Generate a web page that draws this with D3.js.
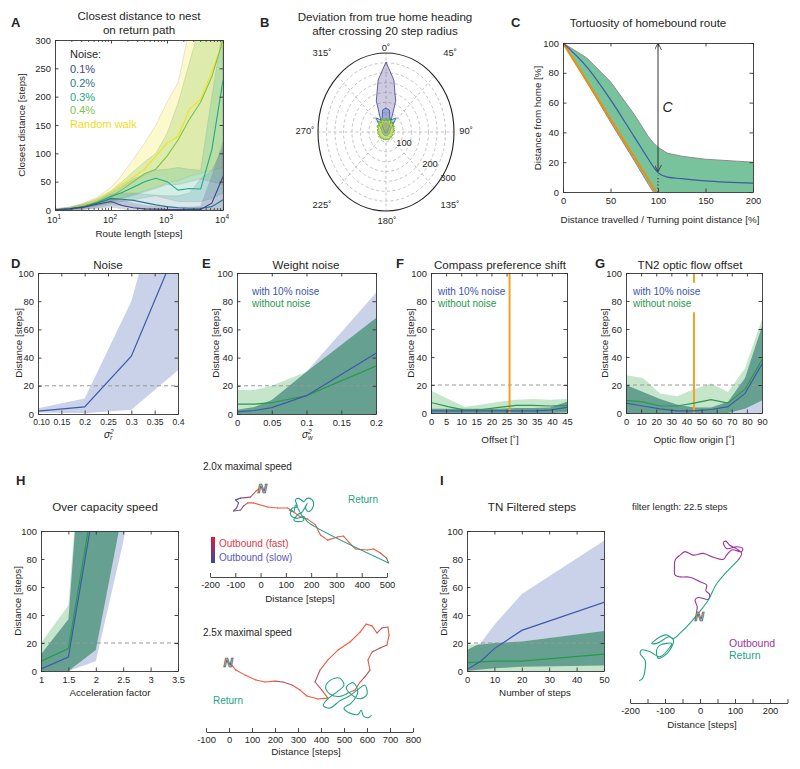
<!DOCTYPE html>
<html><head><meta charset="utf-8">
<script src="https://cdn.jsdelivr.net/npm/d3@7"></script>
<style>body{margin:0;background:#fff;} svg text{font-family:"Liberation Sans",Arial,Helvetica,sans-serif;}</style>
</head><body>
<script>
// ================= DATA =================
// Panel A: closest distance to nest vs route length (log x)
const aRoute = [10,18,32,56,100,158,251,398,631,1000,1585,2512,3981,6310,10000];
const aN01   = [0.5,2,5,10,15,8,4,2,1.5,1,1,1,1,12,59];
const aN01lo = [0,0,1,3,5,2,0,0,0,0,0,0,0,0,0];
const aN01hi = [1,3,8,14,22,18,12,8,6,5,5,5,6,60,120];
const aN02   = [0.5,2,5,12,20,19,17,13,9,6,4,3,3,6,18];
const aN02lo = [0,0,1,4,9,7,4,1,0,0,0,0,0,0,0];
const aN02hi = [1,4,9,17,28,30,30,28,26,25,25,30,55,70,110];
const aN03   = [0.5,2,6,13,24,31,40,50,56,50,35,38,37,106,229];
const aN03lo = [0,1,3,7,12,15,18,22,25,20,15,15,15,20,30];
const aN03hi = [1,4,10,18,30,42,55,62,70,72,75,72,70,200,320];
const aN04   = [1,3,7,14,24,36,50,64,72,95,124,160,190,235,300];
const aN04lo = [0,1,3,8,14,20,26,32,38,45,45,50,55,50,45];
const aN04hi = [2,5,11,20,34,50,68,85,100,135,190,260,330,400,400];
const aRW    = [1,3,8,17,32,45,58,72,95,118,130,178,195,245,295];
const aRWlo  = [0,1,4,9,16,22,28,34,40,48,52,60,65,70,75];
const aRWhi  = [2,5,12,22,40,62,90,118,150,190,225,320,400,400,400];
const aLegend = ["0.1%","0.2%","0.3%","0.4%","Random walk"];
const aYTicks = [0,50,100,150,200,250,300];
const aXTicks = [10,100,1000,10000];

// Panel B: polar histograms (deg, clockwise from 0)
const bAngles = d3.range(0,360,10);
const b01 = [266,200,125,40,20,12,10,9,8,7,6,6,5,5,5,5,5,5,5,5,5,5,5,5,5,6,6,7,8,9,10,12,20,40,125,200];
const b02 = [91,85,50,55,70,35,25,20,18,17,16,15,15,14,14,14,14,14,14,14,14,14,14,14,15,15,16,17,18,20,25,35,70,55,50,85];
const b03 = [52,45,55,40,48,36,42,32,38,30,27,33,28,31,25,29,32,26,30,27,31,25,29,33,27,31,36,30,40,34,46,38,52,42,50,44];
const b04 = [48,55,42,50,38,45,33,40,30,35,28,32,27,30,26,31,28,25,29,26,30,27,32,28,34,30,37,32,41,36,46,40,52,44,56,50];
const bRW = [42,36,45,33,40,30,36,28,33,26,30,24,28,23,27,24,26,22,25,23,27,24,28,25,30,26,32,28,35,30,38,32,42,35,46,38];
const bAngleLabels = ["0˚","45˚","90˚","135˚","180˚","225˚","270˚","315˚"];
const bRadLabels = [100,200,300];

// Panel C: tortuosity
const cX    = [0,25,50,75,90,95,100,110,125,150,200];
const cMean = [100,84,62,37,22,17,13,10,9,7.5,6];
const cHi   = [100,90,74,52,37,33,30,26,24,22,20];
const cLo   = [100,74,47,21,5,0,0,0,0,0,0];
const cOptX = [0,98];
const cOptY = [100,0];
const cXTicks = [0,50,100,150,200];
const cYTicks = [0,20,40,60,80,100];

// Panel D: noise
const dX = [0.1,0.2,0.3,0.4];
const dMean = [2,5,41,120];
const dHi = [4,11,80,200];
const dLo = [1,0.5,3,31];
const dXTicks = [0.1,0.15,0.2,0.25,0.3,0.35,0.4];
const dXLabels = ["0.10","0.15","0.2","0.25","0.3","0.35","0.4"];

// Panel E: weight noise
const eX = [0,0.025,0.05,0.1,0.2];
const eBlue = [1.5,2.5,4.5,13,43];
const eBlueHi = [3,5,10,30,86];
const eBlueLo = [0,0,0,0,0];
const eGreen = [7,7,8,13,34];
const eGreenHi = [17,17,20,30,68];
const eGreenLo = [0,0,0,0,0];
const eXTicks = [0,0.05,0.1,0.15,0.2];
const eXLabels = ["0","0.05","0.1","0.15","0.2"];

// Panel F: compass preference shift
const fX = [0,5.625,11.25,16.875,22.5,28.125,33.75,39.375,45];
const fBlue = [1.5,1.5,1.5,1.5,1.5,1.5,1.5,2,4];
const fBlueHi = [3,3,3,3,3,3.5,3.5,4,8];
const fBlueLo = [0,0,0,0,0,0,0,0,0.5];
const fGreen = [7.5,4.5,2,2.5,4,5.5,5.5,5,5.5];
const fGreenHi = [16,10,4.5,6,8,9.5,10,9.5,10];
const fGreenLo = [0,0,0,0,0,0,0,0,0];
const fOrange = 26;
const fXTicks = [0,5,10,15,20,25,30,35,40,45];

// Panel G: TN2 optic flow offset
const gX = [0,11.25,22.5,33.75,45,56.25,67.5,78.75,90];
const gBlue = [7,5,3,1.5,1.5,2.5,4.5,14,35];
const gBlueHi = [20,15,10,6,4,4,8,25,62];
const gBlueLo = [0,0,0,0,0,0,0,0,0];
const gGreen = [9,8,5,5,7,9.5,7,17,38];
const gGreenHi = [27,25,14,12,17,21,15,32,67];
const gGreenLo = [0,0,0,0,0,0,0,3,9];
const gOrange = 45;
const gXTicks = [0,10,20,30,40,50,60,70,80,90];

// Panel H: over capacity speed
const hX = [1,1.5,2,2.5,3,3.5];
const hBlue = [1.5,10,125,300,400,450];
const hBlueHi = [12,37,300,400,450,500];
const hBlueLo = [0,0,7,92,200,300];
const hGreen = [7,16,133,300,400,450];
const hGreenHi = [20,47,300,400,450,500];
const hGreenLo = [0,0,15,116,220,320];
const hXTicks = [1,1.5,2,2.5,3,3.5];

// Panel H trajectories (steps)
const h1Out = [[-8,0],[-20,-10],[-40,-32],[-79,-36],[-99,-43],[-87,-55],[-95,-75],[-107,-87],[-79,-83],[-67,-67],[-51,-55],[-28,-55],[28,-71],[67,-75],[107,-75],[126,-87],[158,-111],[186,-119],[217,-142],[237,-182],[265,-202],[304,-190],[328,-186],[348,-209],[375,-237],[423,-241],[447,-237],[474,-253],[498,-273],[506,-292]];
const h1Speed = [1,1,0.6,0.3,0.2,0.2,0.3,0.2,0.4,0.6,0.9,1,1,1,1,1,1,1,1,1,1,1,1,1,1,1,1,1,0.7,0.4];
const h1Ret = [[506,-292],[185,-129],[171,-109],[145,-116],[119,-103],[125,-76],[145,-70],[138,-43],[151,-37],[171,-50],[184,-37],[204,-43],[208,-70],[191,-90],[178,-76],[184,-57],[165,-90],[145,-103],[132,-123],[151,-129],[171,-123],[158,-96],[138,-63],[132,-90],[112,-83]];
const h2Out = [[5,-5],[30,-35],[70,-57],[117,-78],[157,-87],[200,-83],[235,-87],[274,-100],[309,-122],[339,-148],[387,-161],[430,-157],[404,-122],[374,-87],[396,-35],[430,9],[474,52],[526,87],[570,130],[596,165],[622,157],[643,126],[665,148],[691,152],[696,117],[687,74],[657,61],[622,43],[604,9],[613,-35],[591,-65],[570,-87],[548,-122],[517,-135]];
const h2Speed = [1,1,1,1,1,1,0.3,1,1,1,1,1,1,0.3,1,1,1,1,1,1,1,1,0.3,1,1,1,0.3,1,1,1,0.3,1,1,1];
const h2Ret = [[517,-135],[480,-150],[440,-140],[420,-110],[440,-80],[480,-70],[500,-100],[470,-130],[430,-160],[410,-190],[440,-200],[480,-170],[520,-150],[560,-120],[590,-100],[600,-140],[570,-160],[530,-140],[510,-110],[540,-90],[560,-130],[530,-180],[500,-200],[520,-220],[560,-228],[575,-210],[585,-235],[605,-242],[620,-232]];
const h1AxisTicks = [-200,-100,0,100,200,300,400,500];
const h2AxisTicks = [-100,0,100,200,300,400,500,600,700,800];

// Panel I: TN filtered steps
const iX = [0,5,10,20,50];
const iBlue = [1,7,16,29,49];
const iBlueHi = [15,20,33,55,93];
const iBlueLo = [0,1,2,3,4];
const iGreen = [6,6.5,7,7,12];
const iGreenHi = [19,19,20,21,28.5];
const iGreenLo = [0,0,0,0,0];
const iXTicks = [0,10,20,30,40,50];
const iOut = [[0,0],[-9,5],[-8,24],[-14,43],[-5,50],[24,45],[27,60],[17,69],[19,86],[0,95],[-29,108],[-57,109],[-71,114],[-73,138],[-71,157],[-57,171],[-43,181],[-19,171],[9,176],[38,165],[67,159],[76,171],[91,186],[119,181],[122,190],[105,195],[76,190],[67,207],[74,211],[84,200],[105,189],[119,176],[109,157]];
const iRet = [[109,157],[48,90],[24,43],[-5,5],[-29,-24],[-57,-52],[-76,-67],[-95,-57],[-114,-62],[-133,-76],[-138,-81],[-124,-81],[-105,-71],[-90,-62],[-76,-71],[-86,-100],[-105,-119],[-119,-124],[-124,-100],[-114,-86],[-95,-81],[-81,-81],[-114,-119],[-143,-105],[-167,-100],[-171,-110],[-157,-129],[-157,-157],[-164,-181],[-174,-188]];
const iAxisTicks = [-200,-150,-100,-50,0,50,100,150,200,250];
const iAxisLabels = [-200,-100,0,100,200];

const y100Ticks = [0,20,40,60,80,100];

// ================= STYLE =================
const BLUE = "#3e5aa9", GREEN = "#279a4c";
const BLUE_BAND = "#c9d2e8", GREEN_BAND = "#c6e6cc", OVERLAP = "#66a090";
const ORANGE = "#f4a223";
const INK = "#262626";
const TICK = 9.4, LAB = 9.8, TITLE = 11.6;

const svg = d3.select("body").append("svg").attr("width",800).attr("height",769);
svg.append("rect").attr("width",800).attr("height",769).attr("fill","#fff");
const defs = svg.append("defs");
let clipN = 0;

function txt(x,y,s,o={}) {
  const t = svg.append("text").attr("x",x).attr("y",y).text(s)
    .attr("font-size",o.size||LAB).attr("text-anchor",o.anchor||"start").attr("fill",o.fill||INK);
  if (o.weight) t.attr("font-weight",o.weight);
  if (o.style) t.attr("font-style",o.style);
  if (o.family) t.attr("font-family",o.family);
  if (o.rotate) t.attr("transform",`rotate(${o.rotate},${x},${y})`);
  if (o.mid) t.attr("dominant-baseline","central");
  return t;
}
function styleAxis(sel){
  sel.selectAll("path,line").attr("stroke","#333").attr("stroke-width",0.9);
  sel.selectAll("text").attr("font-size",TICK).attr("fill",INK).attr("font-family",'"Liberation Sans",Arial,sans-serif');
}
function frame(xs, ys, xt, yt, xf, yf) {
  const [x0,x1] = xs.range(), [yb,ytop] = ys.range();
  const g = svg.append("g");
  const bottom = g.append("g").attr("transform",`translate(0,${yb})`).call(d3.axisBottom(xs).tickValues(xt).tickFormat(xf).tickSizeInner(-3.5).tickSizeOuter(0).tickPadding(5)).call(styleAxis);
  g.append("g").attr("transform",`translate(0,${ytop})`).call(d3.axisTop(xs).tickValues(xt).tickFormat("").tickSizeInner(-3.5).tickSizeOuter(0)).call(styleAxis);
  g.append("g").attr("transform",`translate(${x0},0)`).call(d3.axisLeft(ys).tickValues(yt).tickFormat(yf).tickSizeInner(-3.5).tickSizeOuter(0).tickPadding(4)).call(styleAxis);
  g.append("g").attr("transform",`translate(${x1},0)`).call(d3.axisRight(ys).tickValues(yt).tickFormat("").tickSizeInner(-3.5).tickSizeOuter(0)).call(styleAxis);
  return bottom;
}
function plotClip(xs, ys) {
  const id = "clip"+(clipN++);
  const [x0,x1] = xs.range(), [yb,yt] = ys.range();
  defs.append("clipPath").attr("id",id).append("rect").attr("x",x0).attr("y",yt).attr("width",x1-x0).attr("height",yb-yt);
  return id;
}
function areaPath(xs, ys, X, hi, lo) {
  return d3.area().x((d,i)=>xs(X[i])).y0((d,i)=>ys(lo[i])).y1((d,i)=>ys(hi[i]))(X);
}
function linePath(xs, ys, X, Y) {
  return d3.line().x((d,i)=>xs(X[i])).y((d,i)=>ys(Y[i]))(X);
}

// Distance panel with bands (D-I)
function distPanel(xs, ys, X, s) {
  const cid = plotClip(xs, ys);
  const g = svg.append("g").attr("clip-path",`url(#${cid})`);
  const bp = areaPath(xs, ys, X, s.blueHi, s.blueLo);
  g.append("path").attr("d",bp).attr("fill",BLUE_BAND);
  if (s.greenHi) {
    const gp = areaPath(xs, ys, X, s.greenHi, s.greenLo);
    g.append("path").attr("d",gp).attr("fill",GREEN_BAND);
    const bid = "bc"+(clipN++);
    defs.append("clipPath").attr("id",bid).append("path").attr("d",bp);
    g.append("path").attr("d",gp).attr("fill",OVERLAP).attr("clip-path",`url(#${bid})`);
  }
  g.append("line").attr("x1",xs.range()[0]).attr("x2",xs.range()[1]).attr("y1",ys(20)).attr("y2",ys(20))
    .attr("stroke","#999").attr("stroke-width",1).attr("stroke-dasharray","4,3");
  if (s.orange !== undefined) {
    if (s.orangeGap) {
      g.append("line").attr("x1",xs(s.orange)).attr("x2",xs(s.orange)).attr("y1",ys(0)).attr("y2",ys(s.orangeGap[0])).attr("stroke",ORANGE).attr("stroke-width",2);
      g.append("line").attr("x1",xs(s.orange)).attr("x2",xs(s.orange)).attr("y1",ys(s.orangeGap[1])).attr("y2",ys(100)).attr("stroke",ORANGE).attr("stroke-width",2);
    } else {
      g.append("line").attr("x1",xs(s.orange)).attr("x2",xs(s.orange)).attr("y1",ys(0)).attr("y2",ys(100)).attr("stroke",ORANGE).attr("stroke-width",2);
    }
  }
  if (s.green) g.append("path").attr("d",linePath(xs,ys,X,s.green)).attr("fill","none").attr("stroke",GREEN).attr("stroke-width",1.2);
  g.append("path").attr("d",linePath(xs,ys,X,s.blue)).attr("fill","none").attr("stroke",BLUE).attr("stroke-width",1.2);
}
function yLabel(x, yc, s) { txt(x, yc, s, {rotate:-90, anchor:"middle", mid:true}); }
function legend2(x, y) {
  txt(x, y, "with 10% noise", {size:10, fill:"#3a55b0"});
  txt(x, y+12, "without noise", {size:10, fill:GREEN});
}

// ================= PANEL A =================
{
  const xs = d3.scaleLog().domain([10,10000]).range([55,223]);
  const ys = d3.scaleLinear().domain([0,300]).range([210,40]);
  const cid = plotClip(xs, ys);
  const g = svg.append("g").attr("clip-path",`url(#${cid})`);
  const series = [
    {c:"#f3e21c", m:aRW, lo:aRWlo, hi:aRWhi, op:0.22},
    {c:"#7fc34f", m:aN04, lo:aN04lo, hi:aN04hi, op:0.25},
    {c:"#22a884", m:aN03, lo:aN03lo, hi:aN03hi, op:0.2},
    {c:"#2a788e", m:aN02, lo:aN02lo, hi:aN02hi, op:0.18},
    {c:"#414487", m:aN01, lo:aN01lo, hi:aN01hi, op:0.2}
  ];
  series.forEach(s => {
    g.append("path").attr("d",areaPath(xs,ys,aRoute,s.hi,s.lo)).attr("fill",s.c).attr("fill-opacity",s.op)
      .attr("stroke","#888").attr("stroke-opacity",0.35).attr("stroke-width",0.6);
  });
  series.forEach(s => {
    g.append("path").attr("d",linePath(xs,ys,aRoute,s.m)).attr("fill","none").attr("stroke",s.c).attr("stroke-width",1.1);
  });
  frame(xs, ys, aXTicks, aYTicks, ()=>"", d3.format("d"));
  const minors = [];
  [10,100,1000].forEach(d => d3.range(2,10).forEach(m => minors.push(d*m)));
  minors.forEach(v => {
    svg.append("line").attr("x1",xs(v)).attr("x2",xs(v)).attr("y1",210).attr("y2",208).attr("stroke","#333").attr("stroke-width",0.8);
    svg.append("line").attr("x1",xs(v)).attr("x2",xs(v)).attr("y1",40).attr("y2",42).attr("stroke","#333").attr("stroke-width",0.8);
  });
  aXTicks.forEach(v => {
    const t = txt(xs(v)-1, 223, "10", {size:TICK, anchor:"middle"});
    t.append("tspan").attr("dy",-4).attr("font-size",6.5).text(String(Math.round(Math.log10(v))));
  });
  txt(139, 20, "Closest distance to nest", {size:TITLE, anchor:"middle"});
  txt(139, 34, "on return path", {size:TITLE, anchor:"middle"});
  txt(139, 237, "Route length [steps]", {anchor:"middle"});
  yLabel(21, 125, "Closest distance [steps]");
  txt(70, 58, "Noise:", {size:11});
  const lc = ["#414487","#2a788e","#22a884","#7fc34f","#f0dc1a"];
  aLegend.forEach((s,i) => txt(70, 73 + i*13.8, s, {size:11, fill:lc[i]}));
  txt(11, 27, "A", {size:13, weight:"bold"});
}

// ================= PANEL B =================
{
  const cx = 386, cy = 132, rx = 68, ry = 79;
  const rs = d3.scaleLinear().domain([0,300]).range([0,1]);
  const pt = (a, r) => [cx + rx*rs(r)*Math.sin(a*Math.PI/180), cy - ry*rs(r)*Math.cos(a*Math.PI/180)];
  const g = svg.append("g");
  d3.range(1,8).forEach(k => g.append("ellipse").attr("cx",cx).attr("cy",cy).attr("rx",rx*k/8).attr("ry",ry*k/8)
    .attr("fill","none").attr("stroke","#b5b5b5").attr("stroke-width",0.8).attr("stroke-dasharray","3,2.5"));
  d3.range(0,360,45).forEach(a => {
    const p = pt(a, 300);
    g.append("line").attr("x1",cx).attr("y1",cy).attr("x2",p[0]).attr("y2",p[1])
      .attr("stroke","#b5b5b5").attr("stroke-width",0.8).attr("stroke-dasharray","3,2.5");
  });
  const polys = [
    {v:b01, c:"#5b4f94", f:"#6a5f9e", op:0.33},
    {v:b02, c:"#3b5db5", f:"#3b5db5", op:0.3},
    {v:b03, c:"#1f9e8a", f:"#1f9e8a", op:0.25},
    {v:b04, c:"#7cc444", f:"#7cc444", op:0.25},
    {v:bRW, c:"#e9d81a", f:"#f2e21c", op:0.25}
  ];
  polys.forEach(p => {
    const d = d3.line().curve(d3.curveLinearClosed)(bAngles.map((a,i)=>pt(a,p.v[i])));
    g.append("path").attr("d",d).attr("fill",p.f).attr("fill-opacity",p.op).attr("stroke",p.c).attr("stroke-width",0.9);
  });
  g.append("ellipse").attr("cx",cx).attr("cy",cy).attr("rx",rx).attr("ry",ry).attr("fill","none").attr("stroke","#222").attr("stroke-width",1.1);
  const offs = [[0,-85],[64,-80],[80,-2],[64,72],[1,88],[-64,72],[-81,-2],[-64,-80]];
  bAngleLabels.forEach((s,i) => txt(cx+offs[i][0], cy+offs[i][1], s, {size:TICK, anchor:"middle", mid:true}));
  const rlab = [[18,10],[44,31],[62,45]];
  bRadLabels.forEach((r,i) => txt(cx+rlab[i][0], cy+rlab[i][1], String(r), {size:TICK, anchor:"middle", mid:true}));
  txt(385, 21, "Deviation from true home heading", {size:TITLE, anchor:"middle"});
  txt(385, 35, "after crossing 20 step radius", {size:TITLE, anchor:"middle"});
  txt(260, 27, "B", {size:13, weight:"bold"});
}

// ================= PANEL C =================
{
  const xs = d3.scaleLinear().domain([0,200]).range([563,753]);
  const ys = d3.scaleLinear().domain([0,100]).range([192,43]);
  const cid = plotClip(xs, ys);
  const g = svg.append("g").attr("clip-path",`url(#${cid})`);
  g.append("path").attr("d",areaPath(xs,ys,cX,cHi,cLo)).attr("fill","#79c39c");
  g.append("path").attr("d",linePath(xs,ys,cX,cHi)).attr("fill","none").attr("stroke","#8c8c8c").attr("stroke-width",1);
  g.append("path").attr("d",linePath(xs,ys,cX.slice(0,6),cLo.slice(0,6))).attr("fill","none").attr("stroke","#8c8c8c").attr("stroke-width",1);
  g.append("path").attr("d",linePath(xs,ys,cOptX,cOptY)).attr("fill","none").attr("stroke","#f08c0a").attr("stroke-width",2);
  g.append("path").attr("d",d3.line().curve(d3.curveMonotoneX).x((d,i)=>xs(cX[i])).y(d=>ys(d))(cMean)).attr("fill","none").attr("stroke","#3c5aa8").attr("stroke-width",1.2);
  g.append("line").attr("x1",xs(100)).attr("x2",xs(100)).attr("y1",ys(0)).attr("y2",ys(11)).attr("stroke","#222").attr("stroke-width",1).attr("stroke-dasharray","1.2,2");
  defs.append("marker").attr("id","arrowC").attr("viewBox","0 0 10 10").attr("refX",9).attr("refY",5)
    .attr("markerWidth",7).attr("markerHeight",7).attr("orient","auto-start-reverse")
    .append("path").attr("d","M0,0 L10,5 L0,10").attr("fill","none").attr("stroke","#333").attr("stroke-width",1.2);
  svg.append("line").attr("x1",xs(100)).attr("x2",xs(100)).attr("y1",ys(99.5)).attr("y2",ys(14))
    .attr("stroke","#333").attr("stroke-width",1).attr("marker-start","url(#arrowC)").attr("marker-end","url(#arrowC)");
  txt(xs(110), ys(57), "C", {size:14, style:"italic", family:"DejaVu Serif, serif", anchor:"middle", mid:true});
  frame(xs, ys, cXTicks, cYTicks, d3.format("d"), d3.format("d"));
  txt(648, 27, "Tortuosity of homebound route", {size:TITLE, anchor:"middle"});
  txt(660, 223, "Distance travelled / Turning point distance [%]", {anchor:"middle"});
  yLabel(537, 118, "Distance from home [%]");
  txt(511, 27, "C", {size:13, weight:"bold"});
}

// ================= PANEL D =================
{
  const xs = d3.scaleLinear().domain([0.1,0.4]).range([38,178]);
  const ys = d3.scaleLinear().domain([0,100]).range([414,273]);
  distPanel(xs, ys, dX, {blue:dMean, blueHi:dHi, blueLo:dLo});
  const bottom = frame(xs, ys, dXTicks, y100Ticks, (d,i)=>dXLabels[i], d3.format("d"));
  bottom.selectAll(".tick text").attr("font-size",8.6);
  bottom.selectAll(".tick text").filter((d,i)=>i===0).attr("dx",3);
  txt(108, 269, "Noise", {size:TITLE, anchor:"middle"});
  const t = txt(104, 438, "σ", {size:10, style:"italic"});
  t.append("tspan").attr("dx",0).attr("dy",-4).attr("font-size",6.5).text("2");
  t.append("tspan").attr("dx",-3.6).attr("dy",6).attr("font-size",6.5).text("r");
  yLabel(18, 343, "Distance [steps]");
  txt(11, 268, "D", {size:13, weight:"bold"});
}
// ================= PANEL E =================
{
  const xs = d3.scaleLinear().domain([0,0.2]).range([237,376]);
  const ys = d3.scaleLinear().domain([0,100]).range([414,273]);
  distPanel(xs, ys, eX, {blue:eBlue, blueHi:eBlueHi, blueLo:eBlueLo, green:eGreen, greenHi:eGreenHi, greenLo:eGreenLo});
  frame(xs, ys, eXTicks, y100Ticks, (d,i)=>eXLabels[i], d3.format("d"));
  legend2(252, 295);
  txt(306, 269, "Weight noise", {size:TITLE, anchor:"middle"});
  const t = txt(302, 438, "σ", {size:10, style:"italic"});
  t.append("tspan").attr("dx",0).attr("dy",-4).attr("font-size",6.5).text("2");
  t.append("tspan").attr("dx",-3.6).attr("dy",6).attr("font-size",6.5).text("w");
  yLabel(215, 343, "Distance [steps]");
  txt(202, 268, "E", {size:13, weight:"bold"});
}
// ================= PANEL F =================
{
  const xs = d3.scaleLinear().domain([0,45]).range([431,567]);
  const ys = d3.scaleLinear().domain([0,100]).range([413,273]);
  distPanel(xs, ys, fX, {blue:fBlue, blueHi:fBlueHi, blueLo:fBlueLo, green:fGreen, greenHi:fGreenHi, greenLo:fGreenLo, orange:fOrange});
  frame(xs, ys, fXTicks, y100Ticks, d3.format("d"), d3.format("d"));
  legend2(438, 295);
  txt(500, 269, "Compass preference shift", {size:TITLE, anchor:"middle"});
  txt(500, 443, "Offset [˚]", {anchor:"middle"});
  yLabel(410, 343, "Distance [steps]");
  txt(396, 268, "F", {size:13, weight:"bold"});
}
// ================= PANEL G =================
{
  const xs = d3.scaleLinear().domain([0,90]).range([626,762]);
  const ys = d3.scaleLinear().domain([0,100]).range([413,273]);
  distPanel(xs, ys, gX, {blue:gBlue, blueHi:gBlueHi, blueLo:gBlueLo, green:gGreen, greenHi:gGreenHi, greenLo:gGreenLo, orange:gOrange, orangeGap:[72,93]});
  frame(xs, ys, gXTicks, y100Ticks, d3.format("d"), d3.format("d"));
  legend2(633, 295);
  txt(690, 269, "TN2 optic flow offset", {size:TITLE, anchor:"middle"});
  txt(694, 443, "Optic flow origin [˚]", {anchor:"middle"});
  yLabel(604, 343, "Distance [steps]");
  txt(595, 268, "G", {size:13, weight:"bold"});
}
// ================= PANEL H =================
{
  const xs = d3.scaleLinear().domain([1,3.5]).range([41,178]);
  const ys = d3.scaleLinear().domain([0,100]).range([671,531]);
  distPanel(xs, ys, hX, {blue:hBlue, blueHi:hBlueHi, blueLo:hBlueLo, green:hGreen, greenHi:hGreenHi, greenLo:hGreenLo});
  frame(xs, ys, hXTicks, y100Ticks, d => String(d), d3.format("d"));
  txt(105, 511, "Over capacity speed", {size:TITLE, anchor:"middle"});
  txt(110, 696, "Acceleration factor", {anchor:"middle"});
  yLabel(17, 601, "Distance [steps]");
  txt(16, 485, "H", {size:13, weight:"bold"});
}

// ---- trajectories ----
const speedColor = d3.interpolateRgb("#3c4fae", "#f15a3f");
function nest(x, y) {
  txt(x, y, "N", {size:13, weight:"bold", style:"italic", family:"DejaVu Sans, sans-serif", anchor:"middle", mid:true})
    .attr("fill","#b8b8b8").attr("stroke","#3a3a3a").attr("stroke-width",0.6);
}
function trajAxis(xs, yLine, ticks, labels) {
  svg.append("g").attr("transform",`translate(0,${yLine})`)
    .call(d3.axisBottom(xs).tickValues(ticks).tickFormat(v => labels.includes(v) ? String(v) : "").tickSizeInner(-4).tickSizeOuter(0).tickPadding(4))
    .call(styleAxis);
}
function drawOut(xs, ys, pts, speed) {
  for (let i = 1; i < pts.length; i++) {
    svg.append("line").attr("x1",xs(pts[i-1][0])).attr("y1",ys(pts[i-1][1])).attr("x2",xs(pts[i][0])).attr("y2",ys(pts[i][1]))
      .attr("stroke", speedColor((speed[i-1]+speed[i])/2)).attr("stroke-width",1.1).attr("stroke-linecap","round");
  }
}
function drawPath(xs, ys, pts, color) {
  svg.append("path").attr("d", d3.line().curve(d3.curveCatmullRom.alpha(0.5)).x(d=>xs(d[0])).y(d=>ys(d[1]))(pts))
    .attr("fill","none").attr("stroke",color).attr("stroke-width",1.1);
}
const RET = "#22a384";
{
  const xs = d3.scaleLinear().domain([-200,500]).range([210,387]);
  const ys = d3.scaleLinear().domain([0,100]).range([489,489-25.3]);
  drawOut(xs, ys, h1Out, h1Speed);
  drawPath(xs, ys, h1Ret, RET);
  nest(xs(6), ys(2));
  trajAxis(xs, 577, h1AxisTicks, h1AxisTicks);
  txt(300, 602, "Distance [steps]", {anchor:"middle"});
  txt(203, 470, "2.0x maximal speed", {size:10});
  txt(348, 503, "Return", {size:10, fill:RET});
  const gr = defs.append("linearGradient").attr("id","spd").attr("x1",0).attr("x2",0).attr("y1",0).attr("y2",1);
  gr.append("stop").attr("offset","0%").attr("stop-color","#e8182e");
  gr.append("stop").attr("offset","100%").attr("stop-color","#2a4fa8");
  svg.append("rect").attr("x",211).attr("y",537).attr("width",4).attr("height",26).attr("fill","url(#spd)");
  txt(219, 547, "Outbound (fast)", {size:10, fill:"#e03848"});
  txt(219, 561, "Outbound (slow)", {size:10, fill:"#5a58b8"});
}
{
  const xs = d3.scaleLinear().domain([-100,800]).range([206,413]);
  const ys = d3.scaleLinear().domain([0,100]).range([662,662-23]);
  drawOut(xs, ys, h2Out, h2Speed);
  drawPath(xs, ys, h2Ret, RET);
  nest(xs(-3), ys(0));
  trajAxis(xs, 732, h2AxisTicks, h2AxisTicks);
  txt(306, 755, "Distance [steps]", {anchor:"middle"});
  txt(203, 636, "2.5x maximal speed", {size:10});
  txt(213, 704, "Return", {size:10, fill:RET});
}
// ================= PANEL I =================
{
  const xs = d3.scaleLinear().domain([0,50]).range([467,604]);
  const ys = d3.scaleLinear().domain([0,100]).range([671,531]);
  distPanel(xs, ys, iX, {blue:iBlue, blueHi:iBlueHi, blueLo:iBlueLo, green:iGreen, greenHi:iGreenHi, greenLo:iGreenLo});
  frame(xs, ys, iXTicks, y100Ticks, d3.format("d"), d3.format("d"));
  txt(532, 511, "TN Filtered steps", {size:TITLE, anchor:"middle"});
  txt(535, 696, "Number of steps", {anchor:"middle"});
  yLabel(443, 601, "Distance [steps]");
  txt(440, 485, "I", {size:13, weight:"bold"});
}
{
  const xs = d3.scaleLinear().domain([-200,250]).range([630,787.5]);
  const ys = d3.scaleLinear().domain([0,100]).range([615,580]);
  drawPath(xs, ys, iOut, "#a0329e");
  drawPath(xs, ys, iRet, RET);
  nest(xs(-2), ys(-3));
  trajAxis(xs, 703, iAxisTicks, iAxisLabels);
  txt(702, 728, "Distance [steps]", {anchor:"middle"});
  txt(632, 510, "filter length: 22.5 steps", {size:9.5});
  txt(729, 647, "Outbound", {size:10.5, fill:"#a0329e"});
  txt(729, 659, "Return", {size:10.5, fill:RET});
}
</script>
</body></html>
